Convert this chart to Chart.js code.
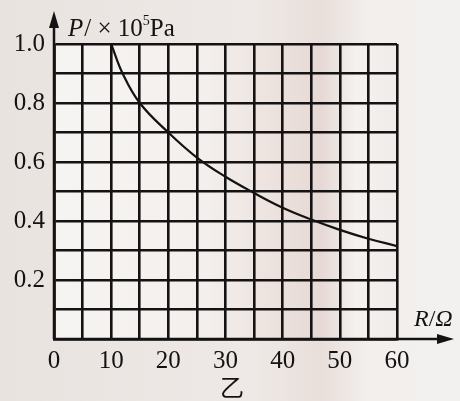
<!DOCTYPE html>
<html>
<head>
<meta charset="utf-8">
<script src="https://cdn.jsdelivr.net/npm/chart.js@4/dist/chart.umd.min.js"></script>
<style>
  html, body { margin: 0; padding: 0; background: #ebe6e2; }
  #wrap { width: 460px; height: 401px; position: relative; }
</style>
</head>
<body>
<div id="wrap"><canvas id="c" width="460" height="401"></canvas></div>
<script>
// ---- data ----
const R_VALUES = [10, 12, 15, 20, 25, 30, 35, 40, 45, 50, 55, 60];      // R / Ω
const P_VALUES = [1.0, 0.9, 0.8, 0.7, 0.615, 0.55, 0.495, 0.445, 0.405, 0.37, 0.34, 0.315]; // P / ×10^5 Pa
const X_TICK_LABELS = [0, 10, 20, 30, 40, 50, 60];
const Y_TICK_LABELS = ['0.2', '0.4', '0.6', '0.8', '1.0'];
const X_TITLE = 'R/Ω';
const CAPTION = '乙';

const SERIF = '"Liberation Serif", "DejaVu Serif", serif';
const INK = '#141212';

const points = R_VALUES.map((r, i) => ({ x: r, y: P_VALUES[i] }));

const decor = {
  id: 'decor',
  beforeDraw(chart) {
    const { ctx, chartArea: a } = chart;
    ctx.save();
    const g = ctx.createLinearGradient(0, 0, 460, 0);
    g.addColorStop(0, '#e8e3df');
    g.addColorStop(0.55, '#eee9e6');
    g.addColorStop(0.7, '#e9dfdb');
    g.addColorStop(0.8, '#f2efed');
    g.addColorStop(1, '#f3f1ef');
    ctx.fillStyle = g;
    ctx.fillRect(0, 0, 460, 401);
    const g2 = ctx.createLinearGradient(a.left, 0, a.right, 0);
    g2.addColorStop(0, '#f6f4f2');
    g2.addColorStop(0.45, '#f3efec');
    g2.addColorStop(0.62, '#ede3df');
    g2.addColorStop(0.78, '#e6d9d5');
    g2.addColorStop(0.88, '#f4f1ef');
    g2.addColorStop(1, '#f1ecea');
    ctx.fillStyle = g2;
    ctx.fillRect(a.left, a.top, a.right - a.left, a.bottom - a.top);
    ctx.restore();
  },
  afterDraw(chart) {
    const { ctx, chartArea: a } = chart;
    ctx.save();
    ctx.strokeStyle = INK;
    ctx.fillStyle = INK;
    ctx.lineWidth = 2.5;
    // y axis arrow
    ctx.beginPath();
    ctx.moveTo(a.left, a.bottom);
    ctx.lineTo(a.left, 22);
    ctx.stroke();
    ctx.beginPath();
    ctx.moveTo(a.left, 11);
    ctx.lineTo(a.left - 5, 28);
    ctx.lineTo(a.left + 5, 28);
    ctx.closePath();
    ctx.fill();
    // x axis arrow
    ctx.beginPath();
    ctx.moveTo(a.left, a.bottom);
    ctx.lineTo(442, a.bottom);
    ctx.stroke();
    ctx.beginPath();
    ctx.moveTo(454, a.bottom);
    ctx.lineTo(437, a.bottom - 5);
    ctx.lineTo(437, a.bottom + 5);
    ctx.closePath();
    ctx.fill();

    // y title: P/×10^5Pa
    ctx.textBaseline = 'alphabetic';
    ctx.textAlign = 'left';
    let x = 68;
    const base = 36;
    ctx.font = 'italic 25px ' + SERIF;
    ctx.fillText('P', x, base); x += ctx.measureText('P').width + 1;
    ctx.font = '25px ' + SERIF;
    ctx.fillText('/ × 10', x, base); x += ctx.measureText('/ × 10').width;
    ctx.font = '14px ' + SERIF;
    ctx.fillText('5', x, base - 11); x += ctx.measureText('5').width;
    ctx.font = '25px ' + SERIF;
    ctx.fillText('Pa', x, base);

    // x title: R/Ω
    x = 414;
    const bx = 326;
    ctx.font = 'italic 24px ' + SERIF;
    ctx.fillText('R', x, bx); x += ctx.measureText('R').width;
    ctx.font = '24px ' + SERIF;
    ctx.fillText('/', x, bx); x += ctx.measureText('/').width;
    ctx.font = 'italic 24px ' + SERIF;
    ctx.fillText('Ω', x, bx);

    // caption
    ctx.textAlign = 'center';
    ctx.font = '24px "Noto Sans CJK SC", sans-serif';
    ctx.fillText(CAPTION, 232, 396);
    ctx.restore();
  }
};

new Chart(document.getElementById('c'), {
  type: 'scatter',
  data: {
    datasets: [{
      data: points,
      showLine: true,
      borderColor: INK,
      borderWidth: 2.2,
      pointRadius: 0,
      tension: 0.4,
      fill: false
    }]
  },
  options: {
    responsive: false,
    animation: false,
    devicePixelRatio: 1,
    layout: { padding: { top: 44, right: 63, left: 0, bottom: 0 } },
    plugins: { legend: { display: false }, tooltip: { enabled: false } },
    scales: {
      x: {
        type: 'linear',
        min: 0, max: 60,
        afterFit: s => { s.height = 62; },
        afterBuildTicks: s => { s.ticks = []; for (let v = 0; v <= 60; v += 5) s.ticks.push({ value: v }); },
        ticks: {
          autoSkip: false, maxRotation: 0, padding: 7, color: INK,
          font: { family: SERIF, size: 25 },
          callback: v => X_TICK_LABELS.includes(v) ? String(v) : ''
        },
        grid: { color: INK, lineWidth: 2.6, drawTicks: false },
        border: { display: true, color: INK, width: 2.6 }
      },
      y: {
        type: 'linear',
        min: 0, max: 1,
        afterFit: s => { s.width = 54; },
        afterBuildTicks: s => { s.ticks = []; for (let k = 0; k <= 10; k++) s.ticks.push({ value: k / 10 }); },
        ticks: {
          autoSkip: false, padding: 9, color: INK,
          font: { family: SERIF, size: 25 },
          callback: v => { const t = v.toFixed(1); return Y_TICK_LABELS.includes(t) ? t : ''; }
        },
        grid: { color: INK, lineWidth: 2.6, drawTicks: false },
        border: { display: true, color: INK, width: 2.6 }
      }
    }
  },
  plugins: [decor]
});
</script>
</body>
</html>
